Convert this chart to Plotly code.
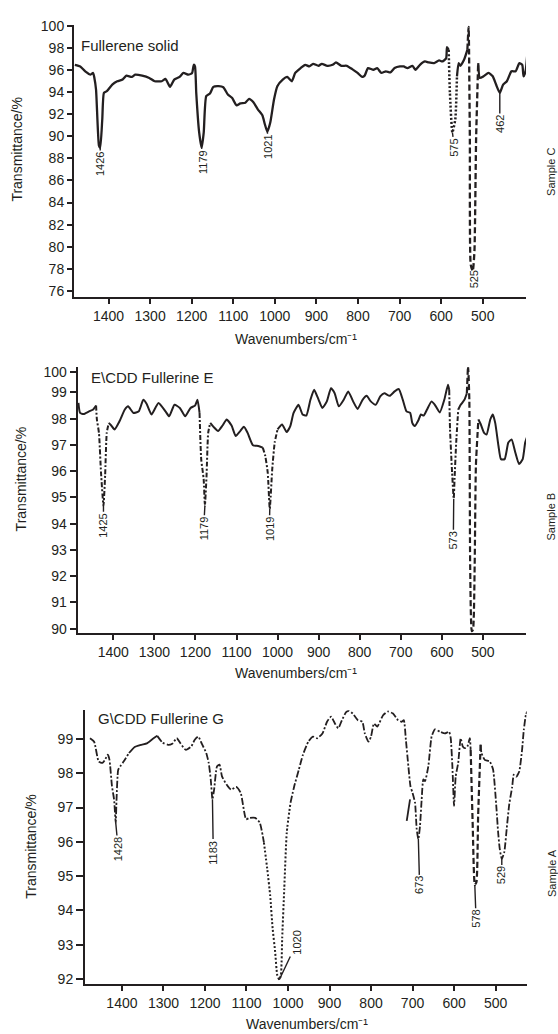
import numpy as np
import plotly.graph_objects as go

W, H = 558, 1034
FONT = "Liberation Sans, Arial, sans-serif"
INK = "#231f20"

# ---------------- Sample C : Fullerene solid ----------------
C_wavenumber = [1481, 1468, 1456, 1443, 1437, 1434, 1430, 1423, 1420, 1415, 1411, 1404, 1391, 1379, 1366,
                1357, 1344, 1336, 1319, 1302, 1289, 1272, 1263, 1252, 1242, 1229, 1220, 1208, 1199, 1195,
                1192, 1189, 1182, 1176, 1171, 1165, 1156, 1148, 1135, 1124, 1113, 1103, 1092, 1083, 1071,
                1062, 1052, 1041, 1030, 1024, 1018, 1011, 1002, 994, 981, 970, 959, 951, 938, 927,
                917, 908, 895, 887, 874, 861, 853, 840, 827, 814, 801, 790, 784, 776, 763,
                754, 744, 733, 722, 712, 699, 690, 681, 669, 662, 651, 639, 630, 617, 605,
                597, 588, 586, 582, 579, 573, 566, 562, 558, 554, 545, 537, 534, 533, 531,
                529, 524, 520, 516, 511, 507, 498, 486, 476, 468, 459, 451, 442, 431, 421,
                412, 405, 402, 397, 393]
C_transmittance = [96.47, 96.32, 95.88, 95.58, 95.73, 95.28, 94.23, 89.15, 88.95, 91.54, 93.93, 94.08, 94.68, 94.98, 95.13,
                   95.49, 95.37, 95.58, 95.49, 95.28, 94.98, 94.98, 95.19, 94.47, 95.13, 95.37, 95.73, 95.58, 95.73, 96.47,
                   96.32, 93.93, 90.35, 88.95, 90.35, 93.63, 93.87, 94.47, 94.53, 94.44, 93.78, 93.48, 92.80, 92.98, 93.04,
                   93.39, 93.10, 92.44, 91.90, 91.09, 90.41, 91.24, 93.33, 94.53, 95.13, 95.37, 94.98, 95.73, 96.17, 96.47,
                   96.32, 96.56, 96.38, 96.56, 96.38, 96.47, 96.68, 96.38, 96.38, 96.08, 95.73, 95.37, 95.49, 96.17, 96.02,
                   96.17, 95.73, 95.88, 95.79, 96.17, 96.32, 96.32, 96.17, 96.38, 96.02, 96.47, 96.77, 96.68, 96.62, 96.86,
                   96.77, 97.07, 98.06, 97.82, 93.93, 90.35, 91.54, 95.43, 96.62, 96.38, 96.92, 97.82, 99.91, 97.82, 89.75,
                   78.39, 77.79, 79.59, 89.75, 96.62, 95.28, 95.43, 95.73, 95.43, 94.68, 93.93, 94.68, 94.98, 95.88, 95.88,
                   96.62, 96.47, 95.43, 95.88, 97.37]
C_peak_text = ["1426", "1179", "1021", "575", "525", "462"]
C_peak_x = [1420, 1176, 1018, 573, 524, 459]
C_peak_y = [88.95, 88.95, 90.41, 90.35, 77.79, 93.93]
C_label_x = [1420, 1173, 1015, 568, 521, 459]
C_label_y = [87.5, 87.66, 89.0, 89.0, 77.05, 91.1]
C_xticks = [1400, 1300, 1200, 1100, 1000, 900, 800, 700, 600, 500]
C_yticks = [76, 78, 80, 82, 84, 86, 88, 90, 92, 94, 96, 98, 100]

# ---------------- Sample B : E\CDD Fullerine E ----------------
E_wavenumber = [1485, 1481, 1472, 1459, 1449, 1442, 1440, 1435, 1430, 1424, 1420, 1416, 1411, 1405, 1397,
                1385, 1372, 1364, 1351, 1338, 1327, 1319, 1307, 1290, 1273, 1264, 1251, 1238, 1225, 1212,
                1201, 1195, 1190, 1186, 1180, 1177, 1173, 1169, 1164, 1156, 1145, 1134, 1124, 1112, 1102,
                1091, 1082, 1073, 1060, 1047, 1036, 1030, 1024, 1019, 1013, 1007, 1000, 989, 978, 969,
                961, 949, 939, 930, 920, 911, 900, 891, 880, 870, 861, 851, 839, 828, 816,
                805, 793, 783, 773, 761, 750, 740, 727, 715, 705, 695, 686, 677, 672, 666,
                657, 651, 644, 636, 625, 617, 605, 594, 585, 582, 580, 575, 571, 569, 565,
                560, 554, 545, 539, 536, 533, 531, 527, 524, 520, 517, 511, 505, 497, 491,
                482, 476, 470, 462, 456, 447, 438, 430, 421, 412, 403, 397, 393]
E_transmittance = [98.60, 98.22, 98.18, 98.28, 98.35, 98.50, 97.97, 97.46, 95.95, 94.69, 95.83, 97.46, 97.84, 97.74, 97.59,
                   97.90, 98.35, 98.47, 98.22, 98.28, 98.72, 98.57, 98.16, 98.60, 98.28, 98.09, 98.53, 98.41, 98.09, 98.41,
                   98.50, 98.72, 98.22, 96.46, 95.70, 94.69, 95.83, 97.46, 97.84, 97.69, 97.53, 97.74, 97.97, 97.74, 97.34,
                   97.53, 97.69, 97.46, 96.99, 96.96, 96.90, 96.58, 95.95, 94.57, 96.08, 97.09, 97.59, 97.78, 97.49, 97.72,
                   98.22, 98.53, 98.16, 98.12, 98.72, 99.10, 98.72, 98.41, 98.66, 99.16, 98.97, 98.47, 98.72, 99.04, 98.66,
                   98.37, 98.72, 98.87, 98.66, 98.53, 98.85, 98.97, 98.87, 99.04, 99.13, 98.72, 98.28, 98.22, 97.84, 97.72,
                   97.94, 98.16, 98.12, 98.35, 98.66, 98.53, 98.24, 98.72, 99.29, 99.10, 97.59, 95.95, 94.95, 95.70, 97.09,
                   98.35, 98.53, 98.72, 98.97, 100.0, 98.72, 92.43, 89.91, 89.97, 92.43, 96.21, 97.97, 97.78, 97.46, 97.40,
                   97.97, 98.16, 97.84, 96.96, 96.46, 96.46, 97.09, 97.21, 96.71, 96.27, 96.46, 97.09, 97.28]
E_peak_text = ["1425", "1179", "1019", "573"]
E_peak_x = [1424, 1177, 1019, 571]
E_peak_y = [94.69, 94.69, 94.57, 94.95]
E_label_x = [1424, 1180, 1020, 572]
E_label_y = [93.94, 93.81, 93.81, 93.37]
E_xticks = [1400, 1300, 1200, 1100, 1000, 900, 800, 700, 600, 500]
E_ytick_pos = [90, 91, 92, 93, 94, 95, 96, 97, 98, 99, 99.77]
E_ytick_text = ["90", "91", "92", "93", "94", "95", "96", "97", "98", "99", "100"]

# ---------------- Sample A : G\CDD Fullerine G ----------------
G_wavenumber = [1477, 1467, 1456, 1447, 1441, 1434, 1430, 1424, 1419, 1415, 1413, 1409, 1404, 1396, 1383,
                1370, 1353, 1340, 1327, 1315, 1302, 1289, 1279, 1268, 1259, 1246, 1233, 1225, 1216, 1208,
                1197, 1191, 1186, 1182, 1178, 1171, 1165, 1159, 1148, 1137, 1125, 1114, 1101, 1092, 1079,
                1068, 1058, 1050, 1043, 1037, 1031, 1026, 1021, 1017, 1014, 1009, 1003, 994, 985, 974,
                964, 951, 940, 930, 917, 906, 896, 887, 879, 870, 860, 853, 844, 832, 821,
                815, 806, 800, 793, 785, 771, 759, 747, 735, 726, 721, 716, 710, 705, 700,
                694, 690, 686, 682, 678, 674, 670, 662, 654, 646, 634, 622, 612, 608, 604,
                600, 596, 590, 584, 579, 574, 568, 562, 560, 555, 550, 546, 542, 536, 534,
                526, 514, 506, 498, 494, 490, 485, 479, 473, 467, 460, 456, 450, 443, 436,
                432, 427, 424]
G_transmittance = [99.02, 98.92, 98.34, 98.30, 98.39, 98.54, 98.39, 97.62, 97.24, 96.56, 97.24, 98.10, 98.20, 98.34, 98.59,
                   98.76, 98.83, 98.87, 98.99, 99.09, 98.89, 98.83, 98.86, 99.02, 98.87, 98.68, 98.78, 98.97, 99.07, 98.87,
                   98.59, 98.30, 97.81, 97.24, 97.52, 98.20, 98.25, 97.91, 97.67, 97.52, 97.60, 97.43, 96.66, 96.70, 96.70,
                   96.56, 95.98, 95.21, 94.44, 93.47, 92.80, 92.12, 91.98, 92.12, 93.19, 94.63, 96.27, 97.14, 97.62, 98.10,
                   98.54, 98.92, 99.07, 99.02, 99.16, 99.50, 99.65, 99.45, 99.31, 99.55, 99.78, 99.82, 99.74, 99.55, 99.50,
                   99.16, 98.92, 99.07, 99.45, 99.36, 99.69, 99.80, 99.74, 99.55, 99.50, 99.55, 98.97, 98.20, 97.62, 97.43,
                   97.14, 96.37, 96.08, 96.47, 97.24, 97.82, 97.77, 98.20, 99.07, 99.28, 99.21, 99.16, 99.21, 99.02, 98.20,
                   97.05, 97.91, 98.30, 99.02, 98.78, 98.73, 98.78, 99.02, 98.68, 96.47, 94.74, 94.83, 96.76, 98.83, 98.59,
                   98.39, 98.34, 98.11, 97.00, 96.30, 95.80, 95.50, 95.70, 96.40, 97.10, 97.60, 97.96, 97.90, 98.05, 98.70,
                   99.26, 99.70, 99.80]
G_branch_wavenumber = [714, 706]
G_branch_transmittance = [96.61, 97.24]
G_peak_text = ["1428", "1183", "1020", "673", "578", "529"]
G_peak_x = [1415, 1182, 1021, 686, 550, 485]
G_peak_y = [96.56, 97.24, 91.98, 96.08, 94.74, 95.50]
G_label_x = [1409, 1180, 979, 683, 547, 485]
G_label_y = [95.79, 95.69, 93.05, 94.73, 93.76, 95.02]
G_xticks = [1400, 1300, 1200, 1100, 1000, 900, 800, 700, 600, 500]
G_yticks = [92, 93, 94, 95, 96, 97, 98, 99]


def px(x):
    return x / W


def py(y):
    return 1 - y / H


fig = go.Figure()


def add_segments(xs, ys, segs, xa, ya):
    xs = np.asarray(xs, dtype=float)
    ys = np.asarray(ys, dtype=float)
    for hi, lo, dash, width in segs:
        m = (xs <= hi) & (xs >= lo)
        fig.add_trace(go.Scatter(
            x=xs[m], y=ys[m], mode="lines", xaxis=xa, yaxis=ya,
            line=dict(color=INK, width=width, dash=dash, shape="spline", smoothing=0.5),
            showlegend=False, hoverinfo="skip"))


add_segments(C_wavenumber, C_transmittance, [
    (1500, 582, "solid", 2.3),
    (582, 562, "2px,2px", 2.5),
    (562, 537, "solid", 2.3),
    (537, 511, "6px,3px", 2.3),
    (511, 380, "solid", 2.3),
], "x", "y")

add_segments(E_wavenumber, E_transmittance, [
    (1500, 1442, "solid", 2.0),
    (1442, 1411, "5px,2px,2px,2px", 2.0),
    (1411, 1190, "solid", 2.0),
    (1190, 1164, "5px,2px,2px,2px", 2.0),
    (1164, 1036, "solid", 2.0),
    (1036, 1000, "5px,2px,2px,2px", 2.0),
    (1000, 582, "solid", 2.0),
    (582, 560, "5px,2px,2px,2px", 2.0),
    (560, 539, "solid", 2.0),
    (539, 511, "6px,3px", 2.2),
    (511, 380, "solid", 2.0),
], "x2", "y2")

GP = "7px,2px,2px,2px"
add_segments(G_wavenumber, G_transmittance, [
    (1500, 1383, GP, 1.8),
    (1383, 1315, "solid", 1.8),
    (1315, 1058, GP, 1.8),
    (1058, 994, "2px,2px", 2.0),
    (994, 560, GP, 1.8),
    (560, 536, "6px,3px", 2.2),
    (536, 400, GP, 1.8),
], "x3", "y3")
add_segments(G_branch_wavenumber, G_branch_transmittance, [(800, 600, "solid", 1.8)], "x3", "y3")

axis_common = dict(showline=True, linecolor=INK, linewidth=2, ticks="outside", tickcolor=INK,
                   tickwidth=2, showgrid=False, zeroline=False, mirror=False, fixedrange=True,
                   tickfont=dict(family=FONT, size=14, color=INK))

fig.update_layout(
    width=W, height=H, autosize=False,
    margin=dict(l=0, r=0, t=0, b=0),
    paper_bgcolor="white", plot_bgcolor="white",
    showlegend=False,
    xaxis=dict(domain=[px(74), px(526)], range=[1483, 396], anchor="y",
               tickvals=C_xticks, ticklen=5, **axis_common),
    yaxis=dict(domain=[py(293.3), py(18.3)], range=[75.41, 100.06], anchor="x",
               tickvals=C_yticks, ticklen=5, **axis_common),
    xaxis2=dict(domain=[px(77.6), px(526)], range=[1487, 395], anchor="y2",
                tickvals=E_xticks, ticklen=5, **axis_common),
    yaxis2=dict(domain=[py(632.3), py(363.5)], range=[89.83, 99.97], anchor="x2",
                tickvals=E_ytick_pos, ticktext=E_ytick_text, ticklen=6, **axis_common),
    xaxis3=dict(domain=[px(85), px(526.7)], range=[1489, 425], anchor="y3",
                tickvals=G_xticks, ticklen=5, **axis_common),
    yaxis3=dict(domain=[py(986.7), py(710)], range=[91.85, 99.84], anchor="x3",
                tickvals=G_yticks, ticklen=7, **axis_common),
)


def peak_labels(texts, kx, ky, lx, ly, xr, yr):
    for t, a, b, c, d in zip(texts, kx, ky, lx, ly):
        fig.add_annotation(x=a, y=b, ax=c, ay=d, xref=xr, yref=yr, axref=xr, ayref=yr,
                           text=t, textangle=-90, showarrow=True, arrowhead=0,
                           arrowwidth=1.4, arrowcolor=INK, standoff=0, startstandoff=0,
                           font=dict(family=FONT, size=11, color=INK))


peak_labels(C_peak_text, C_peak_x, C_peak_y, C_label_x, C_label_y, "x", "y")
peak_labels(E_peak_text, E_peak_x, E_peak_y, E_label_x, E_label_y, "x2", "y2")
peak_labels(G_peak_text, G_peak_x, G_peak_y, G_label_x, G_label_y, "x3", "y3")


def text_at(x, y, t, size=14, angle=0, xanchor="center"):
    fig.add_annotation(x=px(x), y=py(y), xref="paper", yref="paper", text=t, showarrow=False,
                       textangle=angle, xanchor=xanchor, yanchor="middle",
                       font=dict(family=FONT, size=size, color=INK))


# panel titles
text_at(79, 39.3, "Fullerene solid", size=15, xanchor="left")
text_at(89, 374, "E\\CDD Fullerine E", size=15, xanchor="left")
text_at(96, 718.3, "G\\CDD Fullerine G", size=15, xanchor="left")

# axis titles
for yy, xx in [(144, 17), (477, 21), (848, 31)]:
    text_at(xx, yy, "Transmittance/%", size=14, angle=-90)
for xx, yy in [(296, 335), (296, 672), (307, 1027)]:
    text_at(xx, yy, "Wavenumbers/cm⁻¹", size=14)

# sample side labels
for yy, t in [(167, "Sample C"), (515, "Sample B"), (875, "Sample A")]:
    text_at(551.5, yy, t, size=11, angle=-90)

fig.write_html("out.html")
